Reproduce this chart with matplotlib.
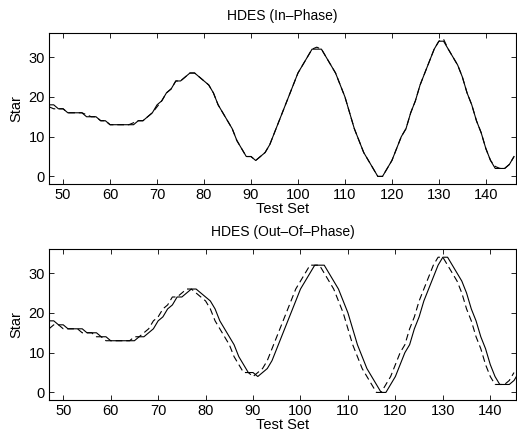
import numpy as np
import matplotlib
matplotlib.use("Agg")
import matplotlib.pyplot as plt

plt.rcParams['font.family'] = ['Liberation Sans', 'DejaVu Sans']

# test set index
test_set = np.arange(47, 147)

# actual star values (47..146)
actual = [18, 18, 17, 17, 16, 16, 16, 16, 15, 15,
          15, 14, 14, 13, 13, 13, 13, 13, 13, 14,
          14, 15, 16, 18, 19, 21, 22, 24, 24, 25,
          26, 26, 25, 24, 23, 21, 18, 16, 14, 12,
          9, 7, 5, 5, 4, 5, 6, 8, 11, 14,
          17, 20, 23, 26, 28, 30, 32, 32, 32, 30,
          28, 26, 23, 20, 16, 12, 9, 6, 4, 2,
          0, 0, 2, 4, 7, 10, 12, 16, 19, 23,
          26, 29, 32, 34, 34, 32, 30, 28, 25, 21,
          18, 14, 11, 7, 4, 2, 2, 2, 3, 5]

# in-phase prediction (47..146)
pred_in = [17.5, 17, 17, 17, 16, 16, 16, 16, 15.5, 15,
           15, 14, 14, 13, 13, 13, 13, 13, 13.5, 14,
           14, 15, 16, 17.5, 19, 21, 22, 24, 24, 25,
           26, 26, 25, 24, 23, 21, 18, 16, 14, 12,
           9, 7, 5, 5, 4, 5, 6, 8, 11, 14,
           17, 20, 23, 26, 28, 30, 32, 32.5, 32, 30,
           28, 26, 23, 20, 16, 12, 9, 6, 4, 2,
           0, 0, 2, 4, 7, 10, 12, 16, 19, 23,
           26, 29, 32, 34, 34.5, 32, 30, 28, 25, 21,
           18, 14, 11, 7, 4, 2.5, 2, 2, 3, 5]

# out-of-phase prediction (47..145)
test_set_out = np.arange(47, 146)
pred_out = [16, 17, 17, 16, 16, 16, 16, 15, 15, 15,
            14, 14, 13, 13, 13, 13, 13, 13, 14, 14,
            15, 16, 18, 19, 21, 22, 24, 24, 25, 26,
            26, 25, 24, 23, 21, 18, 16, 14, 12, 9,
            7, 5, 5, 4, 5, 6, 8, 11, 14, 17,
            20, 23, 26, 28, 30, 32, 32, 32, 30, 28,
            26, 23, 20, 16, 12, 9, 6, 4, 2, 0,
            0, 2, 4, 7, 10, 12, 16, 19, 23, 26,
            29, 32, 34, 34, 32, 30, 28, 25, 21, 18,
            14, 11, 7, 4, 2, 2, 2, 3, 5]

titles = ["HDES (In\u2013Phase)", "HDES (Out\u2013Of\u2013Phase)"]

fig = plt.figure(figsize=(5.17, 4.38), dpi=100)
ax1 = fig.add_axes([0.0948, 0.580, 0.904, 0.345])
ax2 = fig.add_axes([0.0948, 0.0868, 0.904, 0.345])

dash = (0, (6, 3.5))
ax1.plot(test_set, actual, c="black", lw=0.8)
ax1.plot(test_set, pred_in, c="black", lw=0.8, ls=dash)
ax2.plot(test_set, actual, c="black", lw=0.8)
ax2.plot(test_set_out, pred_out, c="black", lw=0.8, ls=dash)

xlims = [(47, 146.5), (47, 145.5)]
for ax, t, xl in zip([ax1, ax2], titles, xlims):
    ax.set_xlim(xl)
    ax.set_ylim(-1.9, 36.1)
    ax.set_xticks(np.arange(50, 141, 10))
    ax.set_yticks([0, 10, 20, 30])
    ax.tick_params(direction="in", top=True, right=True, length=3.5,
                   width=0.6, labelsize=10.5, pad=3)
    for s in ax.spines.values():
        s.set_linewidth(0.8)
    ax.set_title(t, fontsize=10, pad=9)
    ax.set_xlabel("Test Set", fontsize=10.5, labelpad=0)
    ax.set_ylabel("Star", fontsize=10.5, labelpad=4)

fig.savefig("out.png", dpi=100)
